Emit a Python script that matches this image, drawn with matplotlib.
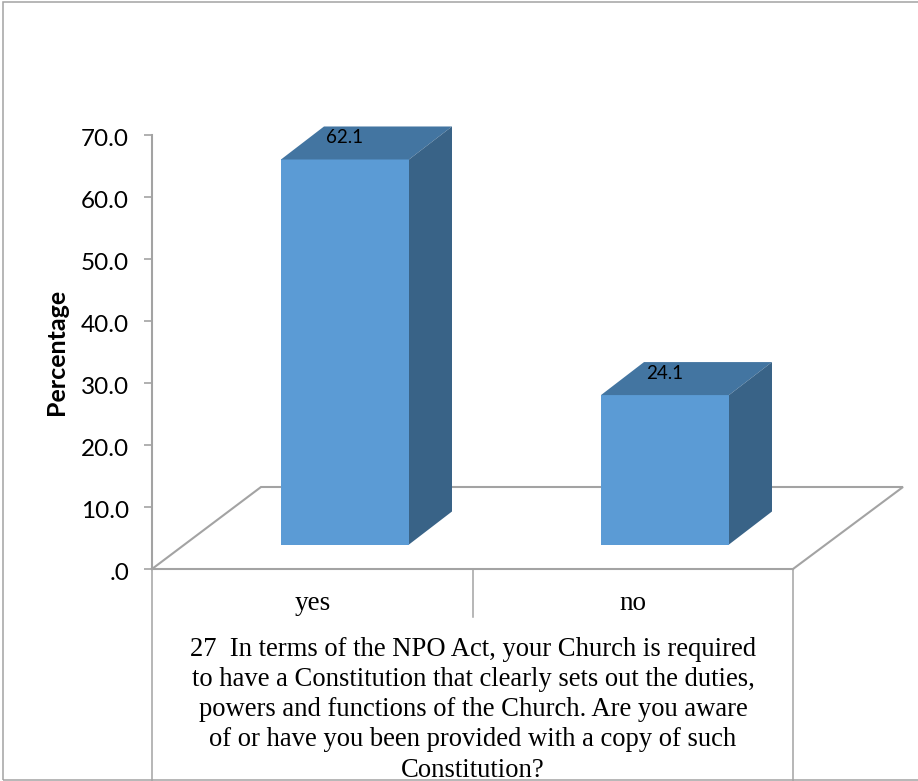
import matplotlib
matplotlib.use('Agg')
import matplotlib.pyplot as plt
from matplotlib.patches import Polygon, Rectangle
from matplotlib.transforms import Affine2D

categories = ['yes', 'no']
percentages = [62.1, 24.1]
y_ticks = [0, 10, 20, 30, 40, 50, 60, 70]
y_tick_labels = ['.0', '10.0', '20.0', '30.0', '40.0', '50.0', '60.0', '70.0']
x_title = ('27  In terms of the NPO Act, your Church is required\n'
           'to have a Constitution that clearly sets out the duties,\n'
           'powers and functions of the Church. Are you aware\n'
           'of or have you been provided with a copy of such\n'
           'Constitution?')

W, H = 918, 781
# layout, in pixels of the saved figure
X0, XSTEP = 312.5, 320.0      # first category centre, category spacing
Y0, YSCALE = 569.0, 6.2       # value zero, pixels per percent
BAR_W = 128
BAR_SHIFT = 32.5              # bars sit on the middle of the floor
BAR_LIFT = 24.5               # front bottom edge above the front floor edge
DX, DY = 43, 33               # 3d depth of a bar
GREY = '#a3a3a3'


def xd(px):
    return (px - X0) / XSTEP


def yd(py):
    return (Y0 - py) / YSCALE


fig = plt.figure(figsize=(W / 100, H / 100), dpi=100)
ax = fig.add_axes([0, 0, 1, 1])
ax.set_xlim(xd(0), xd(W))
ax.set_ylim(yd(H), yd(0))
ax.patch.set_visible(False)

# outer frame of the chart area
fig.add_artist(Rectangle((3 / W, 1 - 779.5 / H), (W + 10) / W, 778 / H,
                         transform=fig.transFigure, fill=False,
                         edgecolor=GREY, linewidth=1.1))

for s in ['top', 'right']:
    ax.spines[s].set_visible(False)
ax.spines['left'].set_position(('data', xd(152)))
ax.spines['left'].set_bounds(0, 70)
ax.spines['left'].set_color(GREY)
ax.spines['left'].set_linewidth(1.5)
ax.spines['bottom'].set_position(('data', 0))
ax.spines['bottom'].set_bounds(xd(152), xd(793))
ax.spines['bottom'].set_color(GREY)
ax.spines['bottom'].set_linewidth(1.5)

ax.set_yticks(y_ticks, y_tick_labels, fontfamily='Lato', fontsize=17.5, color='black')
ax.tick_params(axis='y', length=6, width=1.2, color=GREY, pad=10.5)
# digits sit a little below their tick marks
for lab in ax.get_yticklabels():
    lab.set_transform(lab.get_transform() + Affine2D().translate(0, -3))
ax.set_xticks(range(len(categories)), categories, fontfamily='Liberation Serif',
              fontsize=19.5, color='black')
ax.tick_params(axis='x', length=0, pad=16)

ax.set_ylabel('Percentage', fontfamily='Lato', fontweight='bold', fontsize=18,
              va='center')
ax.yaxis.set_label_coords(57 / W, 1 - 352 / H)
ax.set_xlabel(x_title, fontfamily='Liberation Serif', fontsize=19.2, linespacing=1.28,
              va='top')
ax.xaxis.set_label_coords(473 / W, 1 - 636.5 / H)

# floor of the 3d plot
ax.plot([xd(152), xd(261), xd(903), xd(793)], [yd(569), yd(487), yd(487), yd(569)],
        color=GREY, lw=1.5, zorder=1, solid_joinstyle='miter')
# category table below the floor
ax.plot([xd(152), xd(152)], [yd(569), yd(H)], color=GREY, lw=1.1, zorder=1)
ax.plot([xd(793), xd(793)], [yd(569), yd(H)], color=GREY, lw=1.1, zorder=1)
ax.plot([xd(473), xd(473)], [yd(569), yd(617)], color=GREY, lw=1.1, zorder=1)

lift = BAR_LIFT / YSCALE
dxd, dyd = DX / XSTEP, DY / YSCALE
half = BAR_W / 2 / XSTEP
shift = BAR_SHIFT / XSTEP
for i, v in enumerate(percentages):
    c = i + shift
    top = lift + v
    ax.bar(c, v, bottom=lift, width=2 * half, color='#5b9bd5', zorder=3)
    # top and side faces
    ax.add_patch(Polygon([(c - half, top), (c + half, top),
                          (c + half + dxd, top + dyd), (c - half + dxd, top + dyd)],
                         facecolor='#4375a1', edgecolor='none', zorder=3))
    ax.add_patch(Polygon([(c + half, lift), (c + half + dxd, lift + dyd),
                          (c + half + dxd, top + dyd), (c + half, top)],
                         facecolor='#396387', edgecolor='none', zorder=3))
    ax.text(c, top + 22 / YSCALE, '%.1f' % v, fontfamily='Lato', fontsize=13.5,
            ha='center', va='center', color='black', zorder=4)

fig.savefig('out.png', dpi=100, facecolor='white')
